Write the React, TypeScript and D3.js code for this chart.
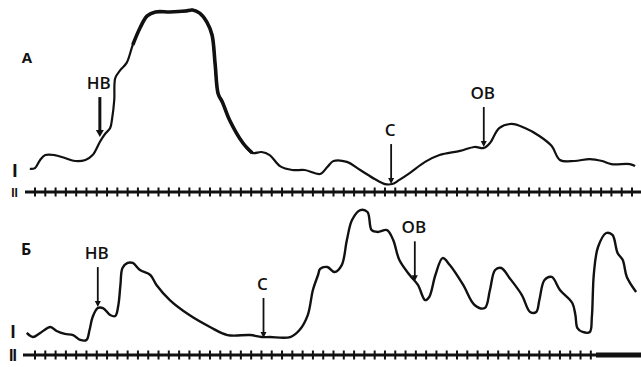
import * as d3 from "d3";
import { useEffect, useRef } from "react";

// Panel А: time (s) and amplitude (relative units)
const timeA = [
  -0.5, 0.0, 0.5, 1.0, 1.9, 2.9, 3.9, 4.9, 5.6, 6.3, 6.8, 7.3, 7.5, 7.7, 7.8, 8.3, 8.9, 9.5,
  10.2, 10.9, 11.7, 13.1, 14.6, 15.3, 16.0, 16.7, 17.2, 17.5, 17.8, 18.2, 18.9, 20.2, 21.1,
  22.0, 22.8, 23.8, 25.0, 26.2, 27.7, 28.4, 29.0, 30.3, 31.6, 33.0, 34.0, 34.7, 35.4, 36.4,
  37.9, 39.3, 41.3, 42.7, 43.6, 44.2, 45.1, 46.3, 47.6, 49.0, 50.2, 51.0, 52.4, 53.9, 55.1,
  56.0, 57.8, 58.3,
];
const ampA = [
  11.7, 12.2, 16.7, 19.4, 19.4, 17.8, 16.1, 16.7, 19.4, 26.7, 31.1, 34.4, 40.0, 50.0, 62.2,
  66.7, 70.6, 80.6, 90.0, 96.7, 98.9, 98.9, 99.4, 100.0, 98.3, 93.3, 86.1, 70.0, 53.3, 48.9,
  38.9, 26.1, 20.6, 21.1, 19.4, 13.3, 11.1, 11.1, 8.9, 12.8, 16.1, 15.6, 11.1, 6.1, 3.3, 3.3,
  5.6, 9.4, 15.6, 19.4, 21.7, 23.9, 23.3, 26.1, 34.4, 36.7, 34.4, 30.0, 24.4, 16.7, 16.1,
  17.2, 16.1, 14.4, 14.4, 13.3,
];

// Panel Б
const timeB = [
  -0.8, -0.2, 0.5, 1.5, 2.1, 2.9, 3.7, 4.4, 5.0, 5.3, 5.6, 6.1, 6.6, 7.3, 7.8, 8.1, 8.3, 8.5,
  9.0, 9.5, 10.2, 11.2, 11.8, 13.1, 15.0, 17.0, 18.7, 20.9, 22.0, 22.8, 24.8, 25.7, 26.5,
  27.0, 27.5, 27.7, 28.4, 29.1, 29.8, 30.3, 30.8, 31.6, 32.3, 32.7, 33.3, 34.2, 34.8, 35.4,
  36.4, 37.2, 37.9, 38.3, 38.9, 39.6, 40.3, 41.6, 42.7, 43.7, 44.2, 44.7, 45.3, 46.1, 47.3,
  48.1, 48.7, 49.0, 49.5, 50.2, 51.0, 52.2, 52.5, 52.7, 53.2, 53.9, 54.1, 54.3, 54.7, 55.5,
  56.1, 56.6, 57.1, 57.5, 58.4,
];
const ampB = [
  8.6, 5.7, 8.6, 12.9, 10.0, 7.9, 7.1, 3.6, 3.6, 10.7, 20.0, 26.4, 26.4, 21.4, 20.7, 28.6,
  42.9, 55.0, 58.6, 58.6, 53.6, 50.0, 42.9, 32.1, 21.4, 12.9, 7.1, 7.1, 5.7, 5.7, 5.7, 10.7,
  21.4, 39.3, 50.0, 54.3, 55.7, 52.1, 57.1, 75.0, 89.3, 96.4, 95.0, 82.1, 80.7, 82.1, 75.0,
  60.7, 50.0, 42.9, 32.1, 34.3, 50.0, 62.1, 57.1, 42.9, 28.6, 26.4, 39.3, 53.6, 55.0, 47.9,
  35.7, 23.6, 23.6, 32.1, 46.4, 48.6, 39.3, 30.0, 21.4, 12.1, 9.3, 9.3, 20.0, 51.4, 70.0,
  80.0, 78.6, 65.7, 60.7, 48.6, 37.9,
];

// event markers
const markLabelsA = ["НВ", "С", "ОВ"];
const markTimesA = [6.3, 34.6, 43.6];
const markTipsA = [29.4, 3.3, 23.9];

const markLabelsB = ["НВ", "С", "ОВ"];
const markTimesB = [6.1, 22.2, 36.9];
const markTipsB = [27.1, 5.0, 45.5];

// one-second time marks on line II
const secondsA = d3.range(0, 59);
const secondsB = d3.range(0, 55);

const FONT = "'Open Sans', 'DejaVu Sans', sans-serif";

function drawRecord(svgEl: SVGSVGElement) {
  const svg = d3.select(svgEl);
  svg.selectAll("*").remove();

  const x = d3.scaleLinear().domain([0, 58]).range([35, 632]);
  const yA = d3.scaleLinear().domain([0, 100]).range([190, 10]);
  const yB = d3.scaleLinear().domain([0, 100]).range([345, 205]);

  svg.append("rect").attr("width", 641).attr("height", 367).attr("fill", "#fff");

  const line = (ys: d3.ScaleLinear<number, number>) =>
    d3
      .line<[number, number]>()
      .x((d) => x(d[0]))
      .y((d) => ys(d[1]))
      .curve(d3.curveCatmullRom.alpha(0.5));

  const ptsA: [number, number][] = timeA.map((t, i) => [t, ampA[i]]);
  const ptsB: [number, number][] = timeB.map((t, i) => [t, ampB[i]]);

  // curve I, panel А
  svg
    .append("path")
    .attr("d", line(yA)(ptsA))
    .attr("fill", "none")
    .attr("stroke", "#111")
    .attr("stroke-width", 2.2)
    .attr("stroke-linejoin", "round");

  // heavier pen on the plateau
  svg
    .append("path")
    .attr("d", line(yA)(ptsA.filter((d) => d[0] >= 9.5 && d[0] <= 21.1)))
    .attr("fill", "none")
    .attr("stroke", "#111")
    .attr("stroke-width", 3.6)
    .attr("stroke-linejoin", "round");

  // curve I, panel Б
  svg
    .append("path")
    .attr("d", line(yB)(ptsB))
    .attr("fill", "none")
    .attr("stroke", "#111")
    .attr("stroke-width", 2.4)
    .attr("stroke-linejoin", "round");

  // time lines II
  const drawTimeline = (yPos: number, x0: number, secs: number[], thickFrom: number | null) => {
    const g = svg.append("g");
    g.append("line")
      .attr("x1", x0)
      .attr("x2", 641)
      .attr("y1", yPos)
      .attr("y2", yPos)
      .attr("stroke", "#111")
      .attr("stroke-width", 3);
    if (thickFrom !== null) {
      g.append("line")
        .attr("x1", thickFrom)
        .attr("x2", 641)
        .attr("y1", yPos)
        .attr("y2", yPos)
        .attr("stroke", "#111")
        .attr("stroke-width", 5);
    }
    g.selectAll(".tick")
      .data(secs)
      .join("line")
      .attr("x1", (d) => x(d))
      .attr("x2", (d) => x(d))
      .attr("y1", yPos - 4.5)
      .attr("y2", yPos + 4.5)
      .attr("stroke", "#111")
      .attr("stroke-width", 2);
  };
  drawTimeline(192, 25, secondsA, null);
  drawTimeline(355, 23, secondsB, 596);

  // arrows + labels
  const drawMarks = (
    labels: string[],
    times: number[],
    tips: number[],
    ys: d3.ScaleLinear<number, number>,
    heavyFirst: boolean
  ) => {
    labels.forEach((lab, i) => {
      const mx = x(times[i]);
      const tipY = ys(tips[i]);
      const heavy = heavyFirst && i === 0;
      const hw = heavy ? 4 : 3;
      const hl = heavy ? 7 : 6;
      svg
        .append("line")
        .attr("x1", mx)
        .attr("x2", mx)
        .attr("y1", tipY - 40)
        .attr("y2", tipY - hl + 1)
        .attr("stroke", "#111")
        .attr("stroke-width", heavy ? 3 : 1.8);
      svg
        .append("path")
        .attr("d", `M${mx},${tipY} L${mx - hw},${tipY - hl} L${mx + hw},${tipY - hl} Z`)
        .attr("fill", "#111");
      svg
        .append("text")
        .attr("x", mx - 1)
        .attr("y", tipY - 48)
        .attr("text-anchor", "middle")
        .style("font-family", FONT)
        .style("font-weight", "600")
        .style("font-size", "17px")
        .style("fill", "#111")
        .text(lab);
    });
  };
  drawMarks(markLabelsA, markTimesA, markTipsA, yA, true);
  drawMarks(markLabelsB, markTimesB, markTipsB, yB, false);

  // panel letters and trace numerals
  const txt = (s: string, tx: number, ty: number, size: number, family = FONT) =>
    svg
      .append("text")
      .attr("x", tx)
      .attr("y", ty)
      .attr("text-anchor", "middle")
      .style("font-family", family)
      .style("font-weight", "700")
      .style("font-size", `${size}px`)
      .style("fill", "#111")
      .text(s);

  txt("А", 27, 63, 15);
  txt("Б", 26, 255, 16);
  txt("I", 15, 177, 19, "'Liberation Sans', sans-serif");
  txt("II", 14.5, 197, 12, "'Liberation Sans', sans-serif");
  txt("I", 13, 338, 18, "'Liberation Sans', sans-serif");
  txt("II", 12.5, 361, 16, "'Liberation Sans', sans-serif").style("letter-spacing", "-1px");
}

export default function App() {
  const ref = useRef<SVGSVGElement | null>(null);

  useEffect(() => {
    if (ref.current) drawRecord(ref.current);
  }, []);

  return (
    <svg
      ref={ref}
      width={641}
      height={367}
      style={{ position: "absolute", left: 0, top: 0, display: "block" }}
    />
  );
}
